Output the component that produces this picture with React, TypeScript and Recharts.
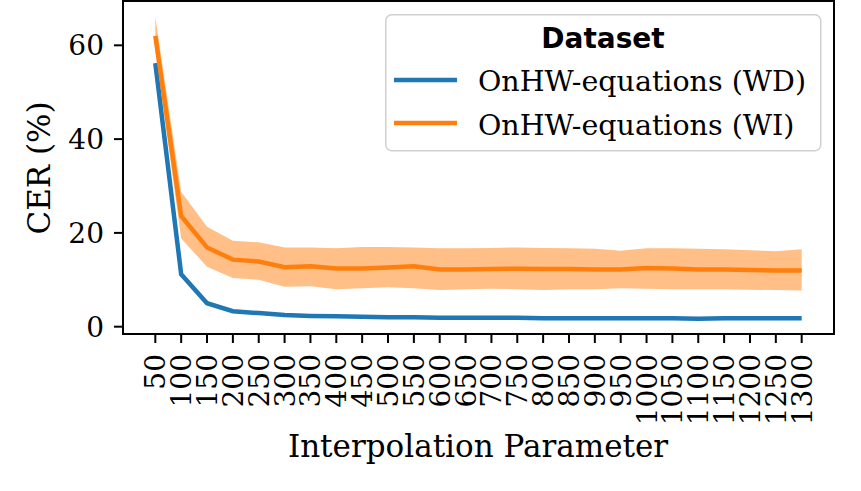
import React from 'react'
import {
  ComposedChart, Line, Area, XAxis, YAxis, Legend, ReferenceArea,
} from 'recharts'

// Interpolation parameter (x categories)
const PARAMS = [50, 100, 150, 200, 250, 300, 350, 400, 450, 500, 550, 600, 650,
  700, 750, 800, 850, 900, 950, 1000, 1050, 1100, 1150, 1200, 1250, 1300]

// CER (%) for OnHW-equations (WD)
const WD = [56.2, 11.2, 5.0, 3.3, 2.9, 2.5, 2.3, 2.2, 2.1, 2.0, 2.0, 1.9, 1.9,
  1.9, 1.9, 1.8, 1.8, 1.8, 1.8, 1.8, 1.8, 1.7, 1.8, 1.8, 1.8, 1.8]

// CER (%) for OnHW-equations (WI), mean and std band
const WI = [62.0, 23.6, 16.9, 14.3, 13.9, 12.7, 12.9, 12.4, 12.4, 12.6, 12.9, 12.2, 12.2,
  12.3, 12.35, 12.3, 12.3, 12.2, 12.2, 12.5, 12.4, 12.2, 12.2, 12.1, 12.0, 12.0]
const WI_HIGH = [66.1, 28.8, 21.3, 18.3, 18.0, 16.9, 16.9, 16.7, 17.0, 17.0, 16.9, 16.7, 16.7,
  16.8, 16.9, 16.8, 16.7, 16.6, 16.2, 16.7, 16.7, 16.6, 16.5, 16.3, 16.1, 16.5]
const WI_LOW = [59.0, 18.8, 12.8, 10.4, 10.0, 8.5, 8.6, 8.0, 8.2, 8.4, 8.2, 7.8, 8.0,
  8.1, 8.0, 7.8, 8.0, 8.0, 8.2, 8.1, 8.0, 8.0, 8.0, 7.9, 7.8, 7.7]

const Y_TICKS = [0, 20, 40, 60]
const X_DOMAIN: [number, number] = [-12.5, 1362.5]
const Y_DOMAIN: [number, number] = [-1.56, 69.45]

const BLUE = '#1f77b4'
const ORANGE = '#ff7f0e'
const SERIF = 'DejaVu Serif'
const TICK_FONT = 28

const data = PARAMS.map((p, i) => ({
  param: p,
  wd: WD[i],
  wi: WI[i],
  band: [WI_LOW[i], WI_HIGH[i]],
}))

function XTick({ x, y, payload }: any) {
  return (
    <text
      transform={`translate(${x},${y}) rotate(-90)`}
      textAnchor="end"
      dy={10}
      fontSize={TICK_FONT}
      fontFamily={SERIF}
      fill="#000"
    >
      {payload.value}
    </text>
  )
}

function LegendBox() {
  return (
    <svg width={437} height={138} style={{ display: 'block' }}>
      <rect x={0.75} y={0.75} width={435} height={136} rx={6}
        fill="rgba(255,255,255,0.8)" stroke="#d0d0d0" strokeWidth={1.5} />
      <text x={218} y={34} textAnchor="middle" fontSize={28} fontWeight="bold"
        fontFamily="DejaVu Sans" fill="#000">Dataset</text>
      <line x1={9} x2={72} y1={66} y2={66} stroke={BLUE} strokeWidth={4.5} />
      <text x={93} y={77} fontSize={28.5} fontFamily={SERIF} fill="#000">OnHW-equations (WD)</text>
      <line x1={9} x2={72} y1={109} y2={109} stroke={ORANGE} strokeWidth={4.5} />
      <text x={93} y={121} fontSize={28.5} fontFamily={SERIF} fill="#000">OnHW-equations (WI)</text>
    </svg>
  )
}

export default function App() {
  return (
    <div style={{ position: 'absolute', left: 0, top: 0, background: '#fff' }}>
      <ComposedChart
        width={861}
        height={491}
        data={data}
        margin={{ top: 1, right: 27, left: 0, bottom: 0 }}
      >
        <XAxis
          dataKey="param"
          type="number"
          domain={X_DOMAIN}
          ticks={PARAMS}
          interval={0}
          axisLine={false}
          tickLine={{ stroke: '#000', strokeWidth: 2 }}
          tickSize={9}
          tickMargin={11}
          tick={<XTick />}
          height={157}
          label={{
            content: () => (
              <text x={478} y={457} textAnchor="middle" fontSize={31}
                fontFamily={SERIF} fill="#000">Interpolation Parameter</text>
            ),
          }}
        />
        <YAxis
          type="number"
          domain={Y_DOMAIN}
          ticks={Y_TICKS}
          allowDataOverflow
          axisLine={false}
          tickLine={{ stroke: '#000', strokeWidth: 2 }}
          tickSize={9}
          tickMargin={10}
          tick={{ fontSize: TICK_FONT, fill: '#000', fontFamily: SERIF }}
          width={123}
          label={{
            content: () => (
              <text transform="translate(50,168) rotate(-90)" textAnchor="middle"
                fontSize={31} fontFamily={SERIF} fill="#000">CER (%)</text>
            ),
          }}
        />
        <Line
          dataKey="wd"
          type="linear"
          stroke={BLUE}
          strokeWidth={4.5}
          dot={false}
          isAnimationActive={false}
        />
        <Area
          dataKey="band"
          type="linear"
          stroke="none"
          fill={ORANGE}
          fillOpacity={0.5}
          isAnimationActive={false}
        />
        <Line
          dataKey="wi"
          type="linear"
          stroke={ORANGE}
          strokeWidth={4.5}
          dot={false}
          isAnimationActive={false}
        />
        <ReferenceArea
          x1={X_DOMAIN[0]}
          x2={X_DOMAIN[1]}
          y1={Y_DOMAIN[0]}
          y2={Y_DOMAIN[1]}
          fill="none"
          stroke="#000"
          strokeWidth={2}
          ifOverflow="visible"
        />
        <Legend
          layout="horizontal"
          verticalAlign="middle"
          align="center"
          content={() => <LegendBox />}
          wrapperStyle={{ position: 'absolute', left: 385, top: 14, width: 437, height: 138 }}
        />
      </ComposedChart>
    </div>
  )
}
